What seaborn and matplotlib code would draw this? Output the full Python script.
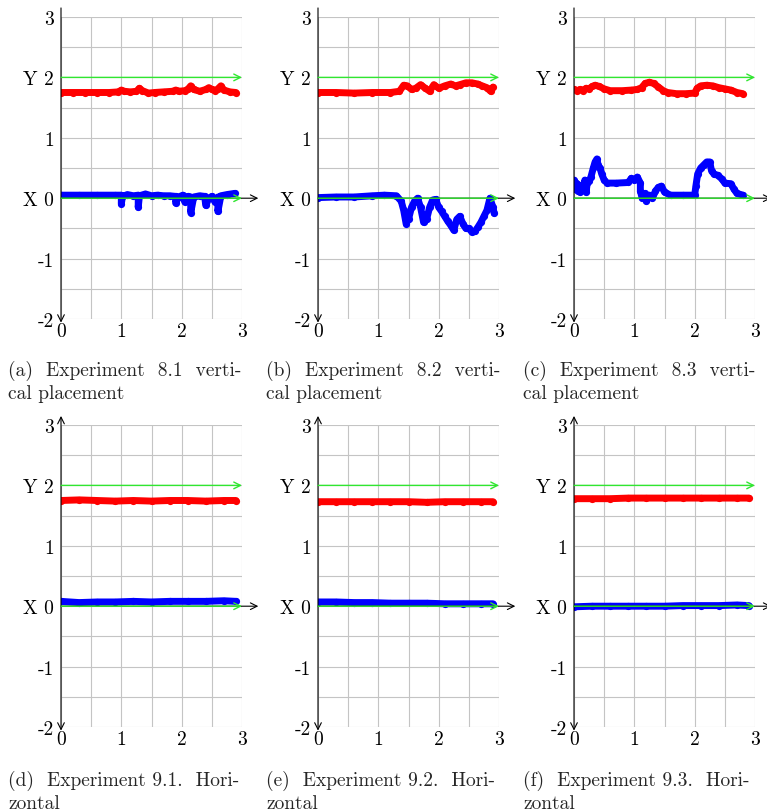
import matplotlib
matplotlib.use("Agg")
import seaborn as sns
from matplotlib import pyplot as plt
from matplotlib.ticker import MultipleLocator

sns.set_theme(style="white")
plt.rcParams['font.family'] = ['cmr10', 'DejaVu Serif']
plt.rcParams['axes.formatter.use_mathtext'] = True
plt.rcParams['axes.unicode_minus'] = False

# ---- data (x in m, values in m) ----
# (a) 8.1 vertical
xa_red = [0, 0.2, 0.4, 0.6, 0.8, 0.95, 1.0, 1.05, 1.15, 1.25, 1.3, 1.35, 1.45, 1.55, 1.7, 1.85,
          1.9, 1.95, 2.05, 2.1, 2.15, 2.2, 2.3, 2.4, 2.45, 2.5, 2.55, 2.6, 2.65, 2.7, 2.8, 2.9]
ya_red = [1.75, 1.75, 1.75, 1.75, 1.75, 1.76, 1.79, 1.77, 1.76, 1.77, 1.82, 1.78, 1.74, 1.75, 1.76, 1.77,
          1.79, 1.77, 1.78, 1.80, 1.86, 1.80, 1.77, 1.80, 1.83, 1.80, 1.78, 1.81, 1.86, 1.79, 1.76, 1.75]
xa_blue = [0, 0.3, 0.6, 0.9, 1.0, 1.0, 1.02, 1.1, 1.2, 1.28, 1.28, 1.3, 1.4, 1.5, 1.6, 1.7, 1.8, 1.9, 1.9,
           1.95, 2.02, 2.05, 2.1, 2.15, 2.15, 2.2, 2.3, 2.38, 2.4, 2.45, 2.5, 2.55, 2.6, 2.6, 2.65, 2.75, 2.88]
ya_blue = [0.05, 0.05, 0.05, 0.05, 0.05, -0.09, 0.03, 0.06, 0.04, 0.05, -0.15, 0.04, 0.07, 0.04, 0.05, 0.04,
           0.04, 0.03, -0.08, 0.02, 0.05, -0.06, 0.03, 0.02, -0.24, 0.02, 0.04, 0.03, -0.12, 0.0, 0.03, -0.06,
           0.02, -0.22, 0.04, 0.06, 0.08]

# (b) 8.2 vertical
xb_red = [0, 0.3, 0.6, 0.9, 1.2, 1.35, 1.42, 1.48, 1.55, 1.62, 1.7, 1.78, 1.85, 1.92, 2.0, 2.1, 2.2,
          2.28, 2.35, 2.45, 2.55, 2.65, 2.72, 2.8, 2.86, 2.9]
yb_red = [1.75, 1.75, 1.74, 1.75, 1.75, 1.77, 1.87, 1.86, 1.80, 1.82, 1.88, 1.82, 1.77, 1.88, 1.82, 1.86,
          1.89, 1.86, 1.88, 1.91, 1.91, 1.89, 1.86, 1.83, 1.77, 1.84]
xb_blue = [0, 0.3, 0.6, 0.9, 1.1, 1.3, 1.38, 1.42, 1.46, 1.5, 1.55, 1.6, 1.65, 1.7, 1.75, 1.8, 1.85, 1.9,
           1.95, 2.0, 2.05, 2.1, 2.15, 2.2, 2.25, 2.3, 2.35, 2.4, 2.45, 2.5, 2.55, 2.6, 2.65, 2.7, 2.75,
           2.8, 2.85, 2.9, 2.92]
yb_blue = [0.01, 0.02, 0.02, 0.04, 0.05, 0.04, -0.05, -0.2, -0.42, -0.35, -0.15, -0.05, 0.0, -0.15, -0.4,
           -0.35, -0.15, -0.03, -0.02, -0.15, -0.22, -0.3, -0.38, -0.45, -0.53, -0.35, -0.3, -0.42, -0.5,
           -0.5, -0.56, -0.55, -0.48, -0.4, -0.3, -0.2, 0.0, -0.15, -0.25]

# (c) 8.3 vertical
xc_red = [0, 0.05, 0.1, 0.15, 0.2, 0.25, 0.3, 0.35, 0.42, 0.5, 0.6, 0.8, 0.95, 1.05, 1.12, 1.18, 1.25,
          1.32, 1.4, 1.48, 1.55, 1.7, 1.85, 2.0, 2.04, 2.1, 2.2, 2.3, 2.4, 2.5, 2.6, 2.7, 2.8]
yc_red = [1.80, 1.78, 1.80, 1.78, 1.82, 1.81, 1.85, 1.87, 1.85, 1.81, 1.78, 1.78, 1.79, 1.80, 1.83, 1.90,
          1.92, 1.90, 1.84, 1.78, 1.75, 1.73, 1.73, 1.74, 1.82, 1.86, 1.87, 1.86, 1.83, 1.81, 1.79, 1.75, 1.73]
xc_blue = [0, 0.02, 0.04, 0.06, 0.08, 0.1, 0.12, 0.15, 0.18, 0.2, 0.22, 0.25, 0.28, 0.32, 0.35, 0.38, 0.4,
           0.43, 0.46, 0.5, 0.55, 0.7, 0.9, 0.95, 1.0, 1.05, 1.1, 1.1, 1.13, 1.17, 1.2, 1.25, 1.3, 1.35, 1.4,
           1.45, 1.5, 1.6, 1.8, 2.0, 2.02, 2.05, 2.1, 2.15, 2.2, 2.25, 2.28, 2.32, 2.38, 2.45, 2.5, 2.6,
           2.65, 2.7, 2.8]
yc_blue = [0.3, 0.15, 0.25, 0.12, 0.22, 0.1, 0.2, 0.15, 0.3, 0.1, 0.25, 0.28, 0.35, 0.5, 0.6, 0.65, 0.55,
           0.5, 0.4, 0.3, 0.25, 0.25, 0.26, 0.33, 0.3, 0.35, 0.25, 0.12, 0.0, 0.08, -0.05, 0.05, 0.0, 0.12,
           0.18, 0.2, 0.1, 0.05, 0.05, 0.05, 0.2, 0.4, 0.5, 0.55, 0.6, 0.6, 0.45, 0.4, 0.38, 0.32, 0.25,
           0.24, 0.15, 0.08, 0.05]

# (d)-(f) 9.x horizontal
x_hor = [0, 0.3, 0.6, 0.9, 1.2, 1.5, 1.8, 2.1, 2.4, 2.7, 2.9]
yd_red = [1.75, 1.76, 1.75, 1.74, 1.75, 1.74, 1.75, 1.75, 1.74, 1.75, 1.75]
yd_blue = [0.08, 0.06, 0.07, 0.07, 0.08, 0.07, 0.08, 0.08, 0.08, 0.09, 0.08]
ye_red = [1.73, 1.73, 1.73, 1.73, 1.73, 1.73, 1.72, 1.73, 1.73, 1.73, 1.73]
ye_blue = [0.07, 0.07, 0.06, 0.06, 0.05, 0.05, 0.05, 0.04, 0.04, 0.04, 0.04]
yf_red = [1.78, 1.78, 1.78, 1.79, 1.79, 1.79, 1.79, 1.79, 1.79, 1.79, 1.79]
yf_blue = [-0.01, 0.0, 0.0, 0.0, 0.0, 0.0, 0.01, 0.01, 0.01, 0.02, 0.01]

yticks = [3, 2, 1, 0, -1, -2]
ytick_labels = ['3', 'Y 2', '1', 'X 0', '-1', '-2']
xticks = [0, 1, 2, 3]

captions = [
    "(a)  Experiment  8.1  verti-\ncal placement",
    "(b)  Experiment  8.2  verti-\ncal placement",
    "(c)  Experiment  8.3  verti-\ncal placement",
    "(d)  Experiment 9.1.  Hori-\nzontal",
    "(e)  Experiment 9.2.  Hori-\nzontal",
    "(f)  Experiment 9.3.  Hori-\nzontal",
]

panels = [
    (xa_red, ya_red, xa_blue, ya_blue),
    (xb_red, yb_red, xb_blue, yb_blue),
    (xc_red, yc_red, xc_blue, yc_blue),
    (x_hor, yd_red, x_hor, yd_blue),
    (x_hor, ye_red, x_hor, ye_blue),
    (x_hor, yf_red, x_hor, yf_blue),
]

W, H = 767, 812
fig = plt.figure(figsize=(W / 100, H / 100), dpi=100)
lefts = [61, 318, 574]
tops = [18, 426]
cap_x = [8, 266, 523]
cap_y = [361, 771]
green = '#30e630'

for i, (xr, yr, xbl, ybl) in enumerate(panels):
    row, col = divmod(i, 3)
    ax = fig.add_axes([lefts[col] / W, 1 - (tops[row] + 302) / H, 181 / W, 302 / H])
    ax.set_xlim(0, 3)
    ax.set_ylim(-2, 3)

    sns.lineplot(x=xr, y=yr, ax=ax, color='#ff0000', lw=5, marker='o', markersize=5.2,
                 markeredgewidth=0, sort=False, estimator=None, zorder=3)
    sns.lineplot(x=xbl, y=ybl, ax=ax, color='#0000ff', lw=5, marker='o', markersize=5.2,
                 markeredgewidth=0, sort=False, estimator=None, zorder=3)

    for sp in ax.spines.values():
        sp.set_visible(False)
    ax.set_xticks(xticks)
    ax.set_xticklabels([str(t) for t in xticks])
    ax.set_yticks(yticks)
    ax.set_yticklabels(ytick_labels)
    ax.xaxis.set_minor_locator(MultipleLocator(0.5))
    ax.yaxis.set_minor_locator(MultipleLocator(0.5))
    ax.tick_params(which='both', length=0, labelsize=14, colors='black')
    ax.tick_params(axis='x', pad=2)
    ax.tick_params(axis='y', pad=5)
    ax.grid(True, which='both', color='#c4c4c4', lw=0.8, zorder=0)
    ax.set_axisbelow(True)
    ax.set_xlabel('')
    ax.set_ylabel('')

    # target lines
    for yv in (2, 0):
        ax.annotate('', xy=(3, yv), xytext=(0, yv), annotation_clip=False, zorder=5,
                    arrowprops=dict(arrowstyle='->', color=green, lw=1.0, shrinkA=0, shrinkB=0))
    # axes with arrows
    ax.annotate('', xy=(3.27, 0), xytext=(0, 0), annotation_clip=False, zorder=4,
                arrowprops=dict(arrowstyle='->', color='black', lw=0.8, shrinkA=0, shrinkB=0))
    style = '->' if row == 0 else '<->'
    ax.annotate('', xy=(0, -2.06), xytext=(0, 3.15), annotation_clip=False, zorder=4,
                arrowprops=dict(arrowstyle=style, color='black', lw=0.8, shrinkA=0, shrinkB=0))

    fig.text(cap_x[col] / W, 1 - cap_y[row] / H, captions[i], ha='left', va='top',
             fontsize=14, linespacing=1.3)

fig.savefig('out.png', dpi=100)
